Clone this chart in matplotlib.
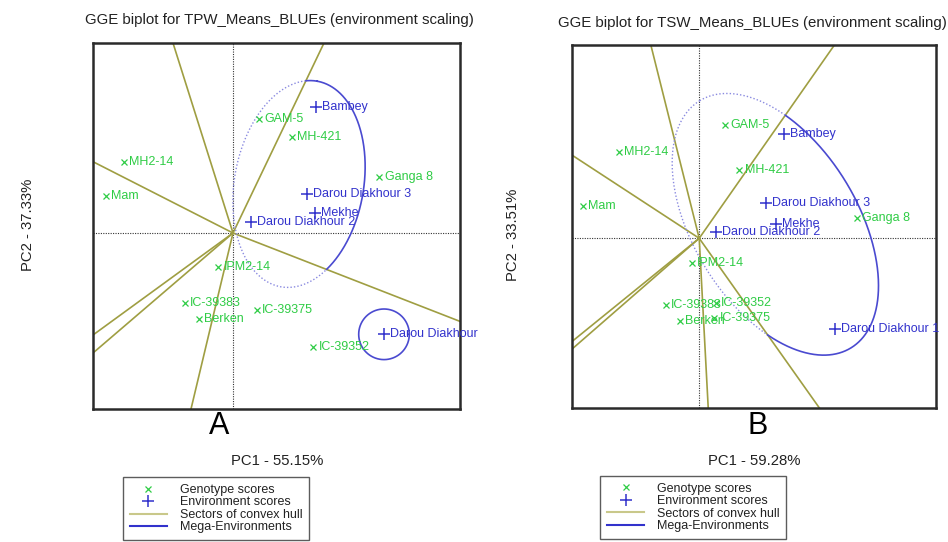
import numpy as np
import matplotlib
matplotlib.use("Agg")
import matplotlib.pyplot as plt
from matplotlib.lines import Line2D

plt.rcParams['font.family'] = ['Liberation Sans', 'DejaVu Sans']

# ---------------- Data: panel A (TPW) ----------------
A_title = "GGE biplot for TPW_Means_BLUEs (environment scaling)"
A_xlabel = "PC1 - 55.15%"
A_ylabel = "PC2 - 37.33%"
A_xlim = (-1.40, 2.27)
A_ylim = (-1.76, 1.90)
A_gen_names = ["GAM-5", "MH-421", "MH2-14", "Mam", "Ganga 8", "IPM2-14",
               "IC-39383", "IC-39375", "Berken", "IC-39352"]
A_gen_x = [0.260, 0.587, -1.090, -1.270, 1.463, -0.147, -0.480, 0.237, -0.343, 0.803]
A_gen_y = [1.137, 0.963, 0.713, 0.373, 0.557, -0.343, -0.703, -0.770, -0.863, -1.137]
A_env_names = ["Bambey", "Darou Diakhour 3", "Mekhe", "Darou Diakhour 2", "Darou Diakhour"]
A_env_x = [0.827, 0.737, 0.820, 0.180, 1.510]
A_env_y = [1.263, 0.390, 0.197, 0.113, -1.013]
A_ray_x = [-0.60, 0.91, -1.40, 2.26, -1.40, -1.40, -0.42]
A_ray_y = [1.90, 1.90, 0.713, -0.88, -1.02, -1.20, -1.76]
A_sector = (1, 3)          # rays bounding the mega-environment sector
A_ell = dict(cx=0.66, cy=0.49, a=1.044, b=0.646, ang=80.0)
A_circ = dict(cx=1.51, cy=-1.013, r=0.253)

# ---------------- Data: panel B (TSW) ----------------
B_title = "GGE biplot for TSW_Means_BLUEs (environment scaling)"
B_xlabel = "PC1 - 59.28%"
B_ylabel = "PC2 - 33.51%"
B_xlim = (-1.27, 2.364)
B_ylim = (-1.70, 1.936)
B_gen_names = ["GAM-5", "MH2-14", "MH-421", "Mam", "Ganga 8", "IPM2-14",
               "IC-39383", "IC-39352", "Berken", "IC-39375"]
B_gen_x = [0.257, -0.800, 0.400, -1.160, 1.573, -0.076, -0.333, 0.164, -0.193, 0.150]
B_gen_y = [1.130, 0.866, 0.686, 0.323, 0.203, -0.250, -0.667, -0.650, -0.827, -0.800]
B_env_names = ["Bambey", "Darou Diakhour 3", "Mekhe", "Darou Diakhour 2", "Darou Diakhour 1"]
B_env_x = [0.847, 0.670, 0.764, 0.167, 1.357]
B_env_y = [1.046, 0.356, 0.143, 0.063, -0.910]
B_ray_x = [-0.483, 1.35, -1.27, -1.27, -1.27, 0.09, 1.20]
B_ray_y = [1.936, 1.936, 0.833, -1.034, -1.11, -1.70, -1.70]
B_sector = (1, 6)
B_ell = dict(cx=0.76, cy=0.14, a=1.45, b=0.822, ang=121.3)

legend_labels = ["Genotype scores", "Environment scores",
                 "Sectors of convex hull", "Mega-Environments"]

GREEN = '#2fcc45'
BLUE = '#3232cc'
OLIVE = '#9f9e42'
ELL_SOLID = '#4a4ad0'
ELL_DOT = '#8a8ae0'

W, H = 948, 542
fig = plt.figure(figsize=(W / 100, H / 100), dpi=100)


def px_axes(l, t, r, b):
    return fig.add_axes([l / W, 1 - b / H, (r - l) / W, (b - t) / H])


def draw_panel(ax, xlim, ylim, gx, gy, gn, ex, ey, en, rx, ry, sector, ell, circ=None):
    ax.set_xlim(*xlim)
    ax.set_ylim(*ylim)
    ax.set_xticks([])
    ax.set_yticks([])
    for s in ax.spines.values():
        s.set_linewidth(1.8)
        s.set_color('#2a2a2a')
    ax.axhline(0, color='#333333', lw=0.8, ls=(0, (1, 1.2)), zorder=1)
    ax.axvline(0, color='#333333', lw=0.8, ls=(0, (1, 1.2)), zorder=1)
    for x, y in zip(rx, ry):
        ax.plot([0, x * 1.2], [0, y * 1.2], color=OLIVE, lw=1.2, zorder=2)
    # mega-environment ellipse
    t = np.linspace(0, 2 * np.pi, 1441)
    phi = np.deg2rad(ell['ang'])
    u = ell['a'] * np.cos(t)
    v = ell['b'] * np.sin(t)
    x = ell['cx'] + u * np.cos(phi) - v * np.sin(phi)
    y = ell['cy'] + u * np.sin(phi) + v * np.cos(phi)
    a_hi = np.arctan2(ry[sector[0]], rx[sector[0]])
    a_lo = np.arctan2(ry[sector[1]], rx[sector[1]])
    ang = np.arctan2(y, x)
    inside = (ang > a_lo) & (ang < a_hi) & (np.hypot(x, y) > 0.5)
    xs = np.where(inside, x, np.nan)
    ys = np.where(inside, y, np.nan)
    xd = np.where(~inside, x, np.nan)
    yd = np.where(~inside, y, np.nan)
    ax.plot(xd, yd, color=ELL_DOT, lw=1.0, ls=(0, (1, 1.5)), zorder=3)
    ax.plot(xs, ys, color=ELL_SOLID, lw=1.2, zorder=3)
    if circ is not None:
        tt = np.linspace(0, 2 * np.pi, 361)
        ax.plot(circ['cx'] + circ['r'] * np.cos(tt), circ['cy'] + circ['r'] * np.sin(tt),
                color=ELL_SOLID, lw=1.2, zorder=3)
    ax.plot(gx, gy, ls='none', marker='x', ms=5, mew=0.9, color=GREEN, zorder=4)
    ax.plot(ex, ey, ls='none', marker='+', ms=8, mew=1.1, color=BLUE, zorder=4)
    for x0, y0, n in zip(gx, gy, gn):
        ax.annotate(n, (x0, y0), xytext=(3.8, 0), textcoords='offset points',
                    ha='left', va='center', fontsize=9, color=GREEN,
                    annotation_clip=False, zorder=5)
    for x0, y0, n in zip(ex, ey, en):
        ax.annotate(n, (x0, y0), xytext=(4.2, 0), textcoords='offset points',
                    ha='left', va='center', fontsize=9, color=BLUE,
                    annotation_clip=False, zorder=5)


axA = px_axes(93, 43, 460, 409)
draw_panel(axA, A_xlim, A_ylim, A_gen_x, A_gen_y, A_gen_names,
           A_env_x, A_env_y, A_env_names, A_ray_x, A_ray_y, A_sector, A_ell, A_circ)
axB = px_axes(572, 45, 936, 408)
draw_panel(axB, B_xlim, B_ylim, B_gen_x, B_gen_y, B_gen_names,
           B_env_x, B_env_y, B_env_names, B_ray_x, B_ray_y, B_sector, B_ell)

TXT = '#222222'
fig.text(279 / W, 1 - 20 / H, A_title, ha='center', va='center', fontsize=10.8, color=TXT)
fig.text(752 / W, 1 - 23 / H, B_title, ha='center', va='center', fontsize=10.8, color=TXT)
fig.text(277 / W, 1 - 461 / H, A_xlabel, ha='center', va='center', fontsize=10.7, color=TXT)
fig.text(754 / W, 1 - 461 / H, B_xlabel, ha='center', va='center', fontsize=10.7, color=TXT)
fig.text(28 / W, 1 - 225 / H, A_ylabel, ha='center', va='center', rotation=90, fontsize=10.7, color=TXT)
fig.text(513 / W, 1 - 235 / H, B_ylabel, ha='center', va='center', rotation=90, fontsize=10.7, color=TXT)
fig.text(219 / W, 1 - 426 / H, "A", ha='center', va='center', fontsize=22, color='black')
fig.text(758 / W, 1 - 426 / H, "B", ha='center', va='center', fontsize=22, color='black')

handles = [Line2D([], [], ls='none', marker='x', ms=5, mew=0.9, color=GREEN),
           Line2D([], [], ls='none', marker='+', ms=8, mew=1.1, color=BLUE),
           Line2D([], [], color='#c9c88a', lw=1.5),
           Line2D([], [], color=BLUE, lw=1.5)]
for lx, ty in [(122.7, 477), (600, 475.7)]:
    leg = fig.legend(handles, legend_labels, loc='upper left',
                     bbox_to_anchor=(lx / W, 1 - ty / H), fontsize=9,
                     frameon=True, fancybox=False, shadow=False,
                     borderpad=0.55, borderaxespad=0, labelspacing=0.04,
                     handlelength=3.0, handletextpad=1.0)
    leg.get_frame().set_edgecolor('#333333')
    leg.get_frame().set_linewidth(1.0)
    for tx in leg.get_texts():
        tx.set_color(TXT)

fig.savefig("out.png", dpi=100)
